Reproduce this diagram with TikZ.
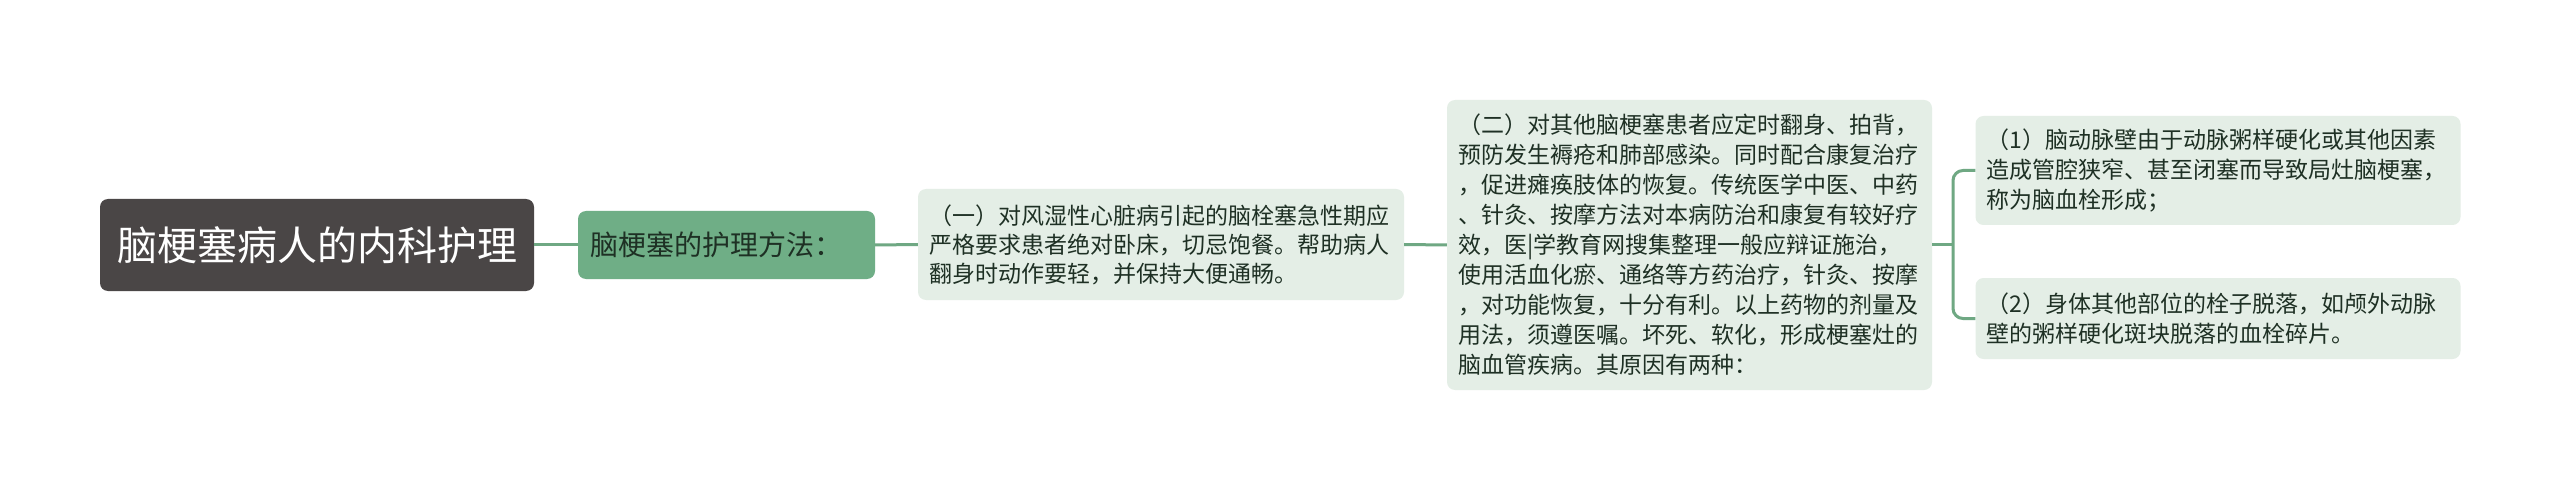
\documentclass[tikz,border=0pt]{standalone}
\usepackage{fontspec}
\newfontfamily\cjk{Noto Sans CJK SC}
\definecolor{rootfill}{HTML}{4A4646}
\definecolor{midfill}{HTML}{6FAE86}
\definecolor{leaffill}{HTML}{E4EEE6}
\definecolor{linecol}{HTML}{6FA883}
\definecolor{txt}{HTML}{1E3024}
\tikzset{
  rootbox/.style={rounded corners=8pt, fill=rootfill, text=white, inner sep=0pt,
    font=\cjk\fontsize{40}{48}\selectfont},
  midbox/.style={rounded corners=8pt, fill=midfill, text=txt, inner xsep=12pt, inner ysep=0pt,
    align=left, text width=273pt, font=\cjk\fontsize{28}{34}\selectfont},
  leafbox/.style={rounded corners=8pt, fill=leaffill, text=txt, inner xsep=11pt, inner ysep=0pt,
    align=left, text width=463pt, font=\cjk\fontsize{23}{30}\selectfont},
  conn/.style={draw=linecol, line width=3pt}
}
\begin{document}
\begin{tikzpicture}[x=1pt,y=-1pt]
\useasboundingbox[fill=white] (0,0) rectangle (2560,489);

\node[rootbox, minimum width=434pt, minimum height=92pt] (root) at (317,245) {脑梗塞病人的内科护理};
\node[midbox, minimum width=297pt, minimum height=68pt] (n2) at (726.5,245) {脑梗塞的护理方法：};
\node[leafbox, minimum width=486pt, minimum height=111pt, font=\cjk\fontsize{23}{29}\selectfont] (n3) at (1161,244.5)
  {（一）对风湿性心脏病引起的脑栓塞急性期应\\严格要求患者绝对卧床，切忌饱餐。帮助病人\\翻身时动作要轻，并保持大便通畅。};
\node[leafbox, minimum width=485pt, minimum height=290pt] (n4) at (1689.5,245)
  {（二）对其他脑梗塞患者应定时翻身、拍背，\\预防发生褥疮和肺部感染。同时配合康复治疗\\，促进瘫痪肢体的恢复。传统医学中医、中药\\、针灸、按摩方法对本病防治和康复有较好疗\\效，医|学教育网搜集整理一般应辩证施治，\\使用活血化瘀、通络等方药治疗，针灸、按摩\\，对功能恢复，十分有利。以上药物的剂量及\\用法，须遵医嘱。坏死、软化，形成梗塞灶的\\脑血管疾病。其原因有两种：};
\node[leafbox, minimum width=484pt, minimum height=109pt] (n5) at (2218,170.5)
  {（1）脑动脉壁由于动脉粥样硬化或其他因素\\造成管腔狭窄、甚至闭塞而导致局灶脑梗塞，\\称为脑血栓形成；};
\node[leafbox, minimum width=484pt, minimum height=81pt] (n6) at (2218,318.5)
  {（2）身体其他部位的栓子脱落，如颅外动脉\\壁的粥样硬化斑块脱落的血栓碎片。};

\coordinate (bx) at (1953,245);
\draw[conn] (root.east) -- (n2.west);
\draw[conn] (n2.east) -- (n3.west);
\draw[conn] (n3.east) -- (n4.west);
\draw[conn] (n4.east) -- (bx);
\draw[conn, rounded corners=10pt] (n5.west) -| (bx) |- (n6.west);
\end{tikzpicture}
\end{document}
